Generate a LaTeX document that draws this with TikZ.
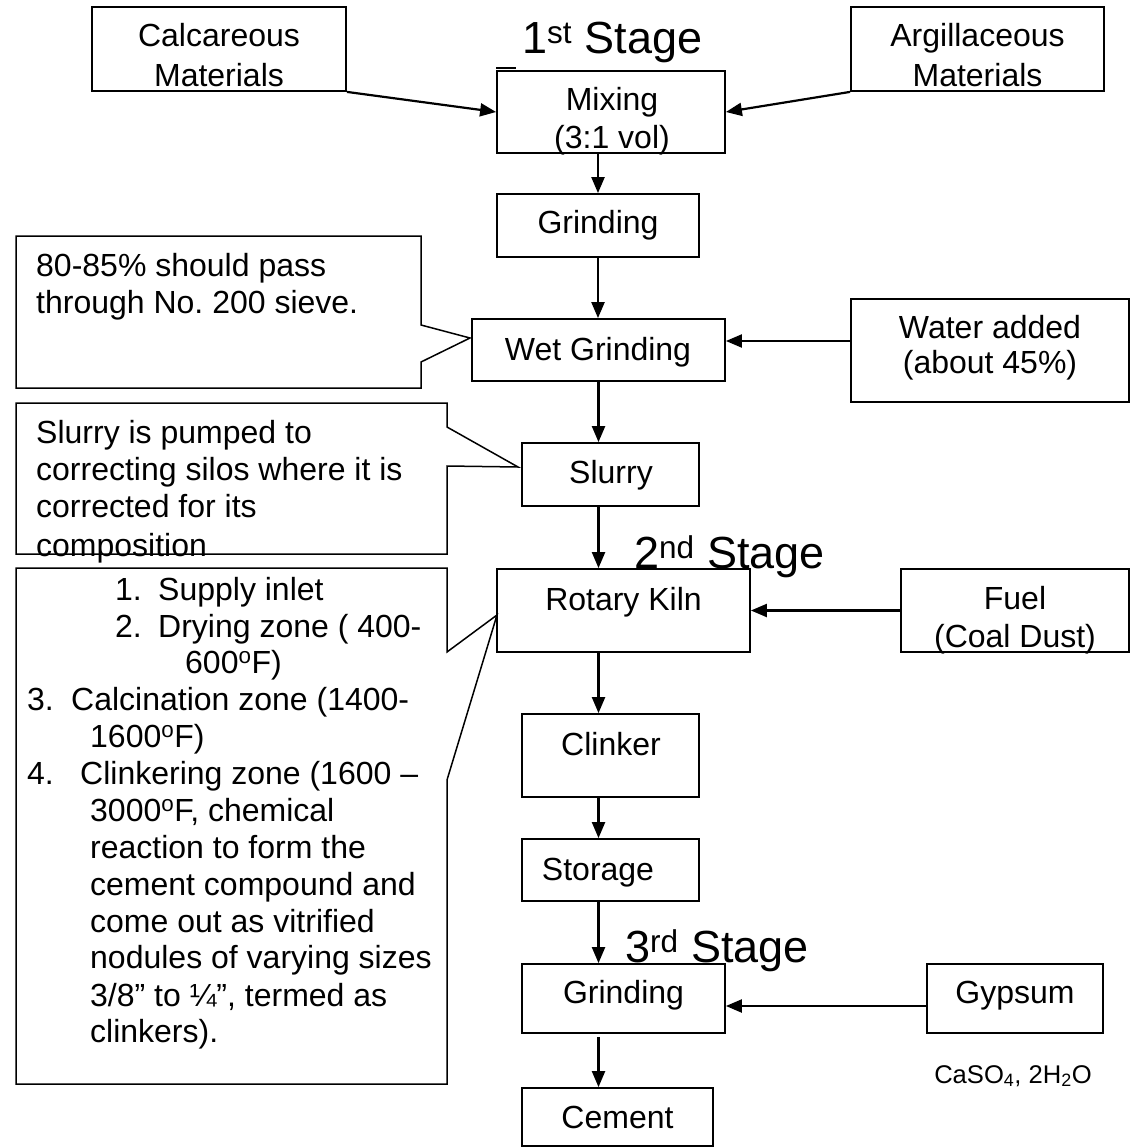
\documentclass[tikz,border=0pt]{standalone}
\usepackage{fontspec}
\setmainfont{Liberation Sans}
\usetikzlibrary{arrows.meta}
\frenchspacing
\begin{document}
\begin{tikzpicture}[x=1pt,y=-1pt,
  box/.style={draw, line width=1.8pt, inner sep=0pt},
  arr/.style={line width=2.2pt, -{Triangle[length=16pt,width=13pt]}},
  callout/.style={draw, line width=1.5pt, line join=miter},
  t/.style={inner sep=0pt, anchor=base, font=\fontsize{32}{37}\selectfont},
  tl/.style={inner sep=0pt, anchor=base west, font=\fontsize{32}{37}\selectfont},
  stage/.style={inner sep=0pt, anchor=base west, font=\fontsize{45}{52}\selectfont},
  small/.style={inner sep=0pt, anchor=base, font=\fontsize{25.6}{30}\selectfont},
]
\fill[white] (0,0) rectangle (1134,1148);
\useasboundingbox (0,0) rectangle (1134,1148);

% ---------- boxes ----------
\node[box, minimum width=254pt, minimum height=84pt] (calc)    at (219,49)     {};
\node[box, minimum width=253pt, minimum height=84pt] (argil)   at (977.5,49)   {};
\node[box, minimum width=228pt, minimum height=82pt] (mix)     at (611,112)    {};
\node[box, minimum width=202pt, minimum height=63pt] (grindA)  at (598,225.5)  {};
\node[box, minimum width=253pt, minimum height=62pt] (wet)     at (598.5,350)  {};
\node[box, minimum width=278pt, minimum height=103pt] (water)  at (990,350.5)  {};
\node[box, minimum width=177pt, minimum height=63pt] (slurry)  at (610.5,474.5) {};
\node[box, minimum width=253pt, minimum height=83pt] (kiln)    at (623.5,610.5) {};
\node[box, minimum width=228pt, minimum height=83pt] (fuel)    at (1015,610.5) {};
\node[box, minimum width=177pt, minimum height=83pt] (clinker) at (610.5,755.5) {};
\node[box, minimum width=177pt, minimum height=62pt] (storage) at (610.5,870)  {};
\node[box, minimum width=203pt, minimum height=69pt] (grindB)  at (623.5,998.5) {};
\node[box, minimum width=176pt, minimum height=69pt] (gypsum)  at (1015,998.5) {};
\node[box, minimum width=191pt, minimum height=58pt] (cement)  at (617.5,1117) {};

% small tick above Mixing box
\draw[line width=1.5pt] ([yshift=2pt]mix.north west) -- ++(20,0);

% ---------- box texts ----------
\node[t] (calcA)  at (219,47)  {Calcareous};
\node[t] (calcB)  at (219,86)  {Materials};
\node[t] (argA)   at (977.5,47) {Argillaceous};
\node[t] (argB)   at (977.5,86) {Materials};
\node[t] (mixA)   at (612,110) {Mixing};
\node[t] (mixB)   at (612,148) {(3:1 vol)};
\node[t] (grAt)   at (598,233) {Grinding};
\node[t] (wetT)   at (598,360) {Wet Grinding};
\node[t] (watA)   at (990,338) {Water added};
\node[t] (watB)   at (990,373) {(about 45\%)};
\node[t] (slT)    at (611,483) {Slurry};
\node[t] (kilnT)  at (623.5,610) {Rotary Kiln};
\node[t] (fuelA)  at (1015,609) {Fuel};
\node[t] (fuelB)  at (1015,647) {(Coal Dust)};
\node[t] (clT)    at (611,755) {Clinker};
\node[t] (stT)    at (598,880) {Storage};
\node[t] (grBt)   at (623.5,1003) {Grinding};
\node[t] (gyT)    at (1015,1003) {Gypsum};
\node[t] (ceT)    at (617.5,1128) {Cement};
\node[small] (caso) at (1013,1083) {CaSO\textsubscript{4}, 2H\textsubscript{2}O};

% ---------- stage titles ----------
\node[stage] (st1) at (522,53)  {1\textsuperscript{st} Stage};
\node[stage] (st2) at (634,568) {2\textsuperscript{nd} Stage};
\node[stage] (st3) at (625,962) {3\textsuperscript{rd} Stage};

% ---------- arrows ----------
\draw[arr] (calc.south east) -- (mix.west);
\draw[arr] (argil.south west) -- (mix.east);
\draw[arr] (grindA.north |- mix.south) -- (grindA.north);
\draw[arr] (grindA.south) -- (grindA.south |- wet.north);
\draw[arr] ([yshift=9.5pt]water.west) coordinate (ws) -- (ws -| wet.east);
\draw[arr] (wet.south) -- (wet.south |- slurry.north);
\draw[arr] (slurry.south -| wet.south) -- (kiln.north -| wet.south);
\draw[arr] (fuel.west) -- (kiln.east);
\draw[arr] (kiln.south -| wet.south) -- (clinker.north -| wet.south);
\draw[arr] (clinker.south -| wet.south) -- (storage.north -| wet.south);
\draw[arr] (storage.south -| wet.south) -- (grindB.north -| wet.south);
\draw[arr] ([yshift=-7.5pt]gypsum.west) coordinate (gs) -- (gs -| grindB.east);
\draw[arr] ([yshift=-3pt]grindB.south -| wet.south) -- (cement.north -| wet.south);

% ---------- callouts ----------
\draw[callout] (16,236) -- (421,236) -- (421,325) -- (470,338) -- (421,362) -- (421,388) -- (16,388) -- cycle;
\node[tl] (c1a) at (36,276) {80-85\% should pass};
\node[tl] (c1b) at (36,313) {through No. 200 sieve.};

\draw[callout] (16,403) -- (447,403) -- (447,427) -- (518,467) -- (447,466) -- (447,554) -- (16,554) -- cycle;
\node[tl] (c2a) at (36,443) {Slurry is pumped to};
\node[tl] (c2b) at (36,480) {correcting silos where it is};
\node[tl] (c2c) at (36,517) {corrected for its};
\node[tl] (c2d) at (36,556) {composition};

\draw[callout] (16,568) -- (447,568) -- (447,652) -- (497,615) -- (447,780) -- (447,1084) -- (16,1084) -- cycle;
\node[tl] (n1)  at (115,600) {1.};
\node[tl] (l1)  at (158,600) {Supply inlet};
\node[tl] (n2)  at (115,637) {2.};
\node[tl] (l2)  at (158,637) {Drying zone ( 400-};
\node[tl] (l2b) at (185,673) {600\textsuperscript{o}F)};
\node[tl] (n3)  at (27,710)  {3.};
\node[tl] (l3)  at (71,710)  {Calcination zone (1400-};
\node[tl] (l3b) at (90,747)  {1600\textsuperscript{o}F)};
\node[tl] (n4)  at (27,784)  {4.};
\node[tl] (l4)  at (80,784)  {Clinkering zone (1600 –};
\node[tl] (l4b) at (90,821)  {3000\textsuperscript{o}F, chemical};
\node[tl] (l4c) at (90,858)  {reaction to form the};
\node[tl] (l4d) at (90,895)  {cement compound and};
\node[tl] (l4e) at (90,932)  {come out as vitrified};
\node[tl] (l4f) at (90,968)  {nodules of varying sizes};
\node[tl] (l4g) at (90,1006) {3/8” to ¼”, termed as};
\node[tl] (l4h) at (90,1042) {clinkers).};
\end{tikzpicture}
\end{document}
